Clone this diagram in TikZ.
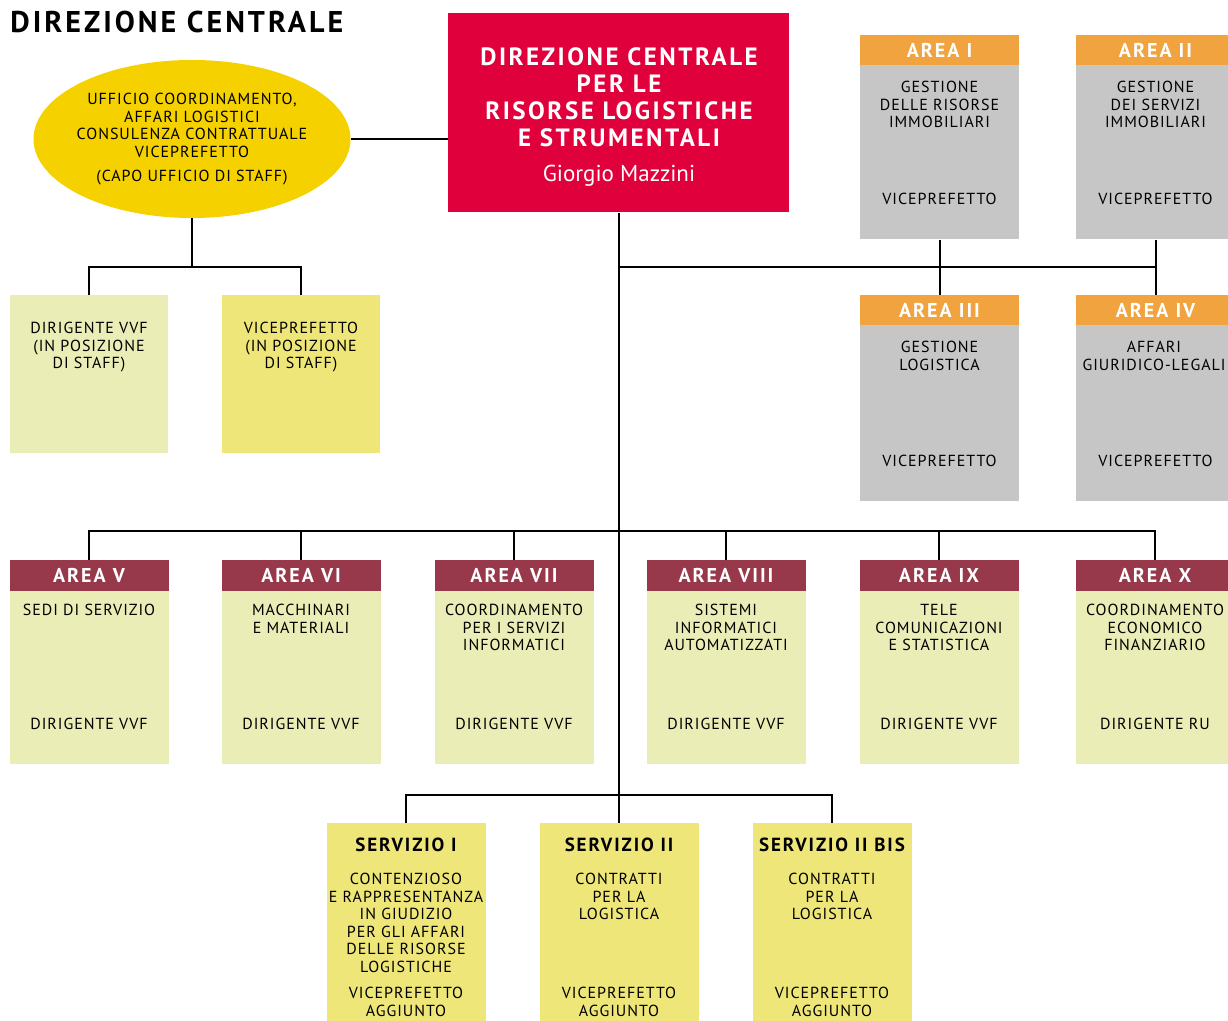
\documentclass[tikz,border=0pt]{standalone}
\usepackage{fontspec}
\setmainfont{PT Sans}[LetterSpace=6]
\newfontfamily\namefont{PT Sans}
\newfontfamily\headfont{PT Sans}[LetterSpace=10]
\usetikzlibrary{shapes.geometric}
\definecolor{dirred}{HTML}{E0003C}
\definecolor{staffyellow}{HTML}{F5D100}
\definecolor{areaorange}{HTML}{F0A33E}
\definecolor{areagray}{HTML}{C6C6C6}
\definecolor{areamaroon}{HTML}{97384B}
\definecolor{palegreen}{HTML}{EAEDB6}
\definecolor{servyellow}{HTML}{EEE679}
\tikzset{
  unit/.style={rectangle, inner sep=0pt, minimum width=79.5pt, anchor=north},
  head/.style={unit, minimum height=15pt, text=white, font=\headfont\bfseries\fontsize{10}{12}\selectfont},
  servhead/.style={inner sep=0pt, font=\headfont\bfseries\fontsize{9.5}{11}\selectfont},
  txt/.style={inner sep=0pt, align=center, anchor=north, font=\fontsize{8}{8.75}\selectfont},
  link/.style={line width=1pt, black}
}

\begin{document}
\begin{tikzpicture}[x=0.5pt, y=-0.5pt]
\useasboundingbox (0,0) rectangle (1228,1021);
% Title
    \node[anchor=north west, inner sep=0pt, font=\headfont\bfseries\fontsize{15}{17}\selectfont] (title) at (10,11) {DIREZIONE CENTRALE};
% Direction
    \node[unit, fill=dirred, minimum width=170.5pt, minimum height=99.5pt] (dir) at (618.5,13) {};
    \node[txt, text=white, font=\headfont\bfseries\fontsize{12.5}{13.5}\selectfont] (dirtxt) at (619,47) {DIREZIONE CENTRALE\\PER LE\\RISORSE LOGISTICHE\\E STRUMENTALI};
    \node[inner sep=0pt, text=white, font=\namefont\fontsize{11.5}{13}\selectfont] (dirname) at (619,176) {Giorgio Mazzini};
% Staff
    \node[ellipse, fill=staffyellow, inner sep=0pt, minimum width=158.5pt, minimum height=79pt] (staffhead) at (192,139) {};
    \node[txt] (stafftxt) at (192,93) {UFFICIO COORDINAMENTO,\\AFFARI LOGISTICI\\CONSULENZA CONTRATTUALE\\VICEPREFETTO};
    \node[txt] (staffrole) at (192,170) {(CAPO UFFICIO DI STAFF)};
    \node[unit, fill=palegreen, minimum width=79pt, minimum height=79pt] (stafflow) at (89,295) {};
    \node[txt] at (89,322) {DIRIGENTE VVF\\(IN POSIZIONE\\DI STAFF)};
    \node[unit, fill=servyellow, minimum width=79pt, minimum height=79pt] (staffvice) at (301,295) {};
    \node[txt] at (301,322) {VICEPREFETTO\\(IN POSIZIONE\\DI STAFF)};
% Areas I-IV
    \node[unit, fill=areagray, minimum height=102pt] (areaI) at (939.5,35) {};
    \node[head, fill=areaorange] at (939.5,35) {AREA I};
    \node[txt] at (939.5,81) {GESTIONE\\DELLE RISORSE\\IMMOBILIARI};
    \node[txt] at (939.5,193) {VICEPREFETTO};
    \node[unit, fill=areagray, minimum height=102pt] (areaII) at (1155.5,35) {};
    \node[head, fill=areaorange] at (1155.5,35) {AREA II};
    \node[txt] at (1155.5,81) {GESTIONE\\DEI SERVIZI\\IMMOBILIARI};
    \node[txt] at (1155.5,193) {VICEPREFETTO};
    \node[unit, fill=areagray, minimum height=103pt] (areaIII) at (939.5,295) {};
    \node[head, fill=areaorange] at (939.5,295) {AREA III};
    \node[txt] at (939.5,341) {GESTIONE\\LOGISTICA};
    \node[txt] at (939.5,455) {VICEPREFETTO};
    \node[unit, fill=areagray, minimum height=103pt] (areaIV) at (1155.5,295) {};
    \node[head, fill=areaorange] at (1155.5,295) {AREA IV};
    \node[txt] at (1154,341) {AFFARI\\GIURIDICO-LEGALI};
    \node[txt] at (1155.5,455) {VICEPREFETTO};
% Areas V-X
    \node[unit, fill=palegreen, minimum height=102pt] (areaV) at (89,560) {};
    \node[head, fill=areamaroon, minimum height=15.5pt] at (89,560) {AREA V};
    \node[txt] at (89,604) {SEDI DI SERVIZIO};
    \node[txt] at (89,718) {DIRIGENTE VVF};
    \node[unit, fill=palegreen, minimum height=102pt] (areaVI) at (301,560) {};
    \node[head, fill=areamaroon, minimum height=15.5pt] at (301,560) {AREA VI};
    \node[txt] at (301,604) {MACCHINARI\\E MATERIALI};
    \node[txt] at (301,718) {DIRIGENTE VVF};
    \node[unit, fill=palegreen, minimum height=102pt] (areaVII) at (514,560) {};
    \node[head, fill=areamaroon, minimum height=15.5pt] at (514,560) {AREA VII};
    \node[txt] at (514,604) {COORDINAMENTO\\PER I SERVIZI\\INFORMATICI};
    \node[txt] at (514,718) {DIRIGENTE VVF};
    \node[unit, fill=palegreen, minimum height=102pt] (areaVIII) at (726,560) {};
    \node[head, fill=areamaroon, minimum height=15.5pt] at (726,560) {AREA VIII};
    \node[txt] at (726,604) {SISTEMI\\INFORMATICI\\AUTOMATIZZATI};
    \node[txt] at (726,718) {DIRIGENTE VVF};
    \node[unit, fill=palegreen, minimum height=102pt] (areaIX) at (939,560) {};
    \node[head, fill=areamaroon, minimum height=15.5pt] at (939,560) {AREA IX};
    \node[txt] at (939,604) {TELE\\COMUNICAZIONI\\E STATISTICA};
    \node[txt] at (939,718) {DIRIGENTE VVF};
    \node[unit, fill=palegreen, minimum height=102pt] (areaX) at (1155,560) {};
    \node[head, fill=areamaroon, minimum height=15.5pt] at (1155,560) {AREA X};
    \node[txt] at (1155,604) {COORDINAMENTO\\ECONOMICO\\FINANZIARIO};
    \node[txt] at (1155,718) {DIRIGENTE RU};
% Services
    \node[unit, fill=servyellow, minimum height=99pt] (servI) at (406,823) {};
    \node[servhead] at (406,845) {SERVIZIO I};
    \node[txt] at (406,873) {CONTENZIOSO\\E RAPPRESENTANZA\\IN GIUDIZIO\\PER GLI AFFARI\\DELLE RISORSE\\LOGISTICHE};
    \node[txt] at (406,987) {VICEPREFETTO\\AGGIUNTO};
    \node[unit, fill=servyellow, minimum height=99pt] (servII) at (619,823) {};
    \node[servhead] at (619,845) {SERVIZIO II};
    \node[txt] at (619,873) {CONTRATTI\\PER LA\\LOGISTICA};
    \node[txt] at (619,987) {VICEPREFETTO\\AGGIUNTO};
    \node[unit, fill=servyellow, minimum height=99pt] (servIIbis) at (832,823) {};
    \node[servhead] at (832,845) {SERVIZIO II BIS};
    \node[txt] at (832,873) {CONTRATTI\\PER LA\\LOGISTICA};
    \node[txt] at (832,987) {VICEPREFETTO\\AGGIUNTO};
% Links
    \coordinate (staffbus) at (192,267);
    \coordinate (upperbus) at (618.5,267);
    \coordinate (areabus) at (618.5,531);
    \coordinate (servbus) at (618.5,795);
    \draw[link] (staffhead.east) -- (staffhead.east -| dir.west);
    \draw[link] (staffhead.south) -- (staffbus);
    \draw[link] (stafflow.north) |- (staffbus) -| (staffvice.north);
    \draw[link] (dir.south) -- (servbus);
    \draw[link] (upperbus) -| (areaII.south);
    \draw[link] (areaI.south) -- (areaIII.north);
    \draw[link] (areaII.south) -- (areaIV.north);
    \foreach \a in {V,VI,VII,VIII,IX,X}
      \draw[link] (area\a.north) |- (areabus);
    \foreach \s in {I,II,IIbis}
      \draw[link] (serv\s.north) |- (servbus);
\end{tikzpicture}
\end{document}
